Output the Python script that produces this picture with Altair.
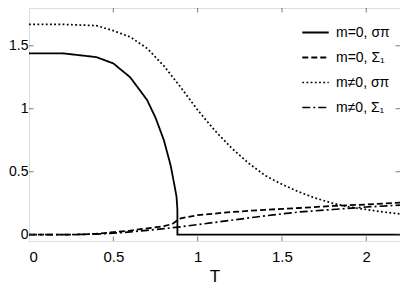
import altair as alt
import pandas as pd

# ---- data ----
labels = ["m=0, σπ", "m=0, Σ₁", "m≠0, σπ", "m≠0, Σ₁"]

t_a = [0, 0.2, 0.4, 0.5, 0.6, 0.7, 0.75, 0.8, 0.84, 0.86, 0.875, 0.88, 0.88, 1.0, 1.5, 2.0, 2.2]
v_a = [1.44, 1.44, 1.41, 1.36, 1.25, 1.07, 0.93, 0.75, 0.55, 0.41, 0.3, 0.2, 0.0, 0.0, 0.0, 0.0, 0.0]

t_b = [0, 0.2, 0.3, 0.4, 0.5, 0.6, 0.7, 0.8, 0.85, 0.88, 0.9, 1.0, 1.2, 1.4, 1.6, 1.8, 2.0, 2.2]
v_b = [0, 0, 0.002, 0.008, 0.02, 0.033, 0.05, 0.068, 0.085, 0.115, 0.13, 0.155, 0.18, 0.198, 0.212, 0.228, 0.24, 0.255]

t_c = [0, 0.2, 0.4, 0.5, 0.6, 0.7, 0.8, 0.9, 1.0, 1.1, 1.2, 1.3, 1.4, 1.5, 1.6, 1.7, 1.8, 1.9, 2.0, 2.1, 2.2]
v_c = [1.67, 1.67, 1.66, 1.62, 1.57, 1.48, 1.34, 1.17, 0.99, 0.83, 0.69, 0.57, 0.47, 0.40, 0.34, 0.29, 0.25, 0.22, 0.20, 0.18, 0.165]

t_d = [0, 0.2, 0.4, 0.5, 0.6, 0.7, 0.8, 0.9, 1.0, 1.2, 1.4, 1.6, 1.8, 2.0, 2.2]
v_d = [0, 0, 0.005, 0.012, 0.022, 0.035, 0.048, 0.063, 0.08, 0.115, 0.15, 0.18, 0.2, 0.22, 0.235]

x_ticks = [0.5, 1, 1.5, 2]
y_ticks = [0, 0.5, 1, 1.5]
x_dom = [0, 2.2]
y_dom = [-0.05, 1.8]

rows = []
for lab, ts, vs in zip(labels, [t_a, t_b, t_c, t_d], [v_a, v_b, v_c, v_d]):
    for i, (t, v) in enumerate(zip(ts, vs)):
        rows.append({"series": lab, "T": t, "v": v, "i": i})
df = pd.DataFrame(rows)

xs = alt.Scale(domain=x_dom, nice=False, zero=False)
ys = alt.Scale(domain=y_dom, nice=False, zero=False)

lines = alt.Chart(df).mark_line(color="black", clip=True).encode(
    x=alt.X("T:Q", scale=xs, title="T",
            axis=alt.Axis(values=[0] + x_ticks, format="~g", ticks=False, domain=False,
                          grid=False, labelFontSize=15, titleFontSize=17,
                          titleFontWeight="normal", labelPadding=8, titlePadding=4,
                          labelColor="black", titleColor="black",
                          labelFont="Liberation Sans", titleFont="Liberation Sans")),
    y=alt.Y("v:Q", scale=ys, title=None,
            axis=alt.Axis(values=y_ticks, format="~g", ticks=False, domain=False,
                          grid=False, labelFontSize=14, labelPadding=1,
                          labelColor="black", labelFont="Liberation Sans")),
    strokeDash=alt.StrokeDash(
        "series:N",
        scale=alt.Scale(domain=labels,
                        range=[[1, 0], [6, 3], [1.8, 2.4], [8, 3, 2, 3]]),
        legend=alt.Legend(title=None, orient="top-right", offset=8,
                          symbolType="stroke", symbolSize=700,
                          symbolStrokeColor="black", symbolStrokeWidth=1.7,
                          labelFontSize=14, labelFont="Liberation Sans",
                          labelColor="black", rowPadding=3, labelOffset=6,
                          padding=2),
    ),
    strokeWidth=alt.StrokeWidth(
        "series:N",
        scale=alt.Scale(domain=labels, range=[1.8, 1.7, 2.0, 1.7]),
        legend=None,
    ),
    order="i:Q",
)

xt = pd.DataFrame({"t": x_ticks})
yt = pd.DataFrame({"t": y_ticks})

tick_bottom = alt.Chart(xt).mark_tick(color="#444", size=9, thickness=1, clip=True).encode(
    x=alt.X("t:Q", scale=xs), y=alt.Y("yb:Q", scale=ys)
).transform_calculate(yb=str(y_dom[0]))
tick_top = alt.Chart(xt).mark_tick(color="#444", size=9, thickness=1, clip=True).encode(
    x=alt.X("t:Q", scale=xs), y=alt.Y("yt:Q", scale=ys)
).transform_calculate(yt=str(y_dom[1]))
tick_left = alt.Chart(yt).mark_tick(color="#444", size=9, thickness=1, clip=True, orient="horizontal").encode(
    y=alt.Y("t:Q", scale=ys), x=alt.X("xl:Q", scale=xs)
).transform_calculate(xl=str(x_dom[0]))
tick_right = alt.Chart(yt).mark_tick(color="#444", size=9, thickness=1, clip=True, orient="horizontal").encode(
    y=alt.Y("t:Q", scale=ys), x=alt.X("xr:Q", scale=xs)
).transform_calculate(xr=str(x_dom[1]))

chart = alt.layer(lines, tick_bottom, tick_top, tick_left, tick_right).properties(
    width=371, height=233, padding={"left": 0, "top": 0, "right": 0, "bottom": 0}
).configure_view(stroke="#444", strokeWidth=1.5).configure(background="white")

chart.save("out.html", embed_options={"renderer": "svg", "actions": False})
